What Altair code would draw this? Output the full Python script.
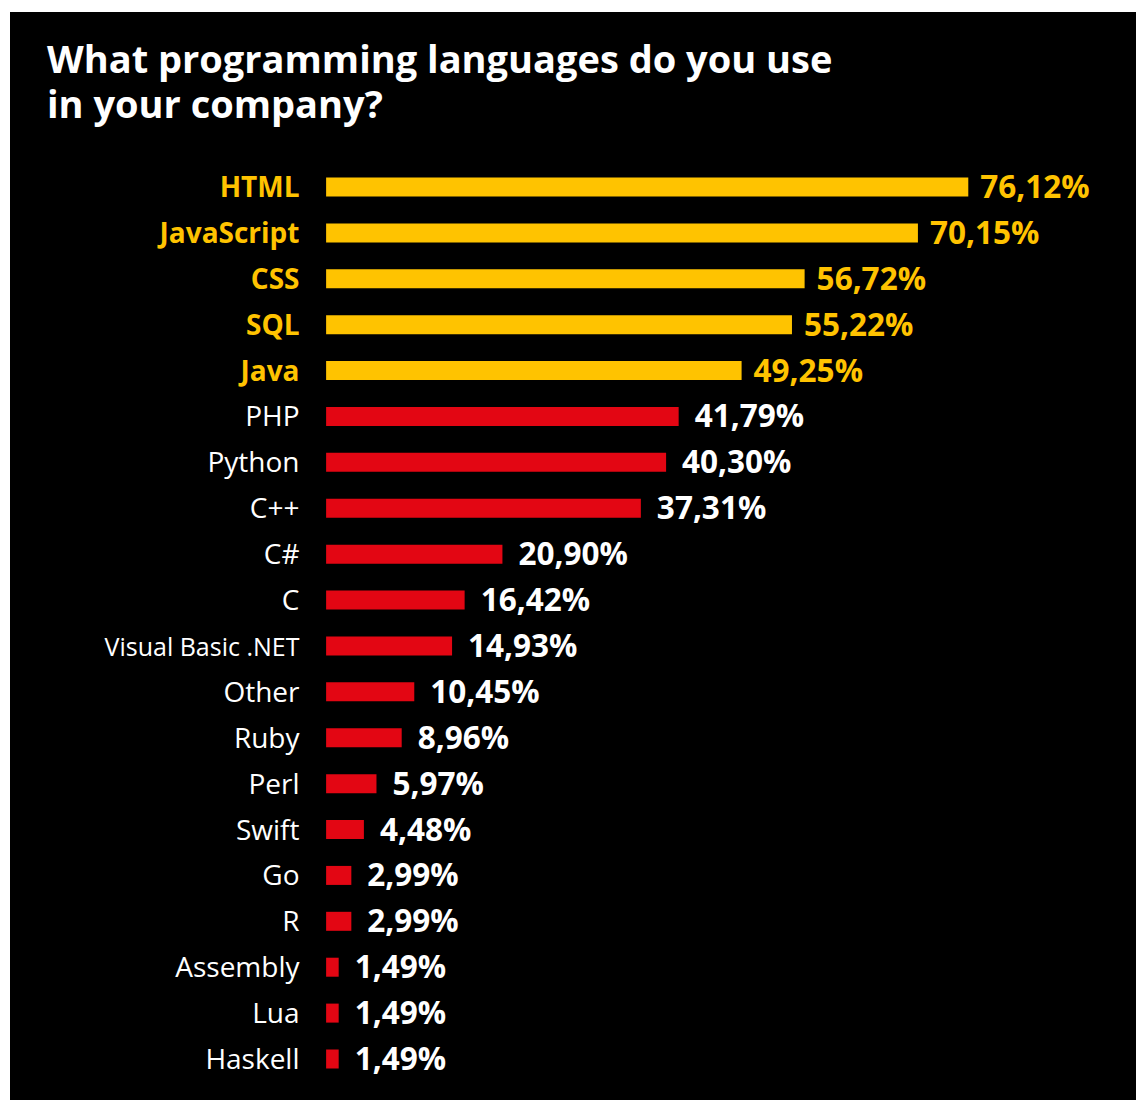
import altair as alt
import pandas as pd

languages = ["HTML", "JavaScript", "CSS", "SQL", "Java", "PHP", "Python", "C++", "C#", "C",
             "Visual Basic .NET", "Other", "Ruby", "Perl", "Swift", "Go", "R", "Assembly", "Lua", "Haskell"]
shares = [76.12, 70.15, 56.72, 55.22, 49.25, 41.79, 40.30, 37.31, 20.90, 16.42,
          14.93, 10.45, 8.96, 5.97, 4.48, 2.99, 2.99, 1.49, 1.49, 1.49]
top_languages = ["HTML", "JavaScript", "CSS", "SQL", "Java"]

YELLOW = "#FFC300"
RED = "#E30613"

df = pd.DataFrame({"language": languages, "share": shares})
df["label"] = df["share"].map(lambda v: f"{v:.2f}".replace(".", ",") + "%")
df["top"] = df["language"].isin(top_languages)

top_expr = "indexof(['HTML','JavaScript','CSS','SQL','Java'], datum.value) >= 0"

y_scale = alt.Scale(paddingInner=0.586, paddingOuter=0, range=[165.5, 1056.5])

y_enc = alt.Y(
    "language:N",
    sort=languages,
    scale=y_scale,
    axis=alt.Axis(
        title=None, orient="left", offset=-316, domain=False, ticks=False, tickSize=0,
        labelPadding=27, labelFont="Open Sans", labelLimit=400, labelOffset=2,
        labelFontSize=alt.ExprRef("datum.value == 'Visual Basic .NET' ? 25 : 28"),
        labelColor=alt.ExprRef(f"{top_expr} ? '{YELLOW}' : 'white'"),
        labelFontWeight=alt.ExprRef(f"{top_expr} ? 'bold' : 'normal'"),
        labelAlign="right", labelBaseline="middle", grid=False,
    ),
)

x_scale = alt.Scale(domain=[-37.47, 96.0], nice=False, zero=False)

bars = alt.Chart(df).mark_bar().encode(
    x=alt.X("share:Q", scale=x_scale, axis=None),
    y=y_enc,
    color=alt.condition("datum.top", alt.value(YELLOW), alt.value(RED)),
)

def value_labels(subset, color, dx):
    return alt.Chart(subset).mark_text(
        align="left", baseline="middle", dx=dx, dy=2, font="Open Sans",
        fontSize=31.5, fontWeight="bold", color=color,
    ).encode(
        x=alt.X("share:Q", scale=x_scale, axis=None),
        y=alt.Y("language:N", sort=languages),
        text="label:N",
    )

top_labels = value_labels(df[df["top"]], YELLOW, 12)
other_labels = value_labels(df[~df["top"]], "white", 16)

chart = alt.layer(bars, top_labels, other_labels).properties(
    width=1126,
    height=1088,
    background="white",
    padding={"left": 10, "top": 12, "right": 0, "bottom": 0},
    autosize=alt.AutoSizeParams(type="none"),
    title=alt.TitleParams(
        text=["What programming languages do you use", "in your company?"],
        font="Open Sans", fontSize=38, fontWeight="bold", color="white",
        anchor="start", frame="group", orient="top", baseline="alphabetic",
        offset=0, dx=37, dy=144, lineHeight=45,
    ),
).configure_view(fill="black", stroke=None)

chart.save("out.html", embed_options={"renderer": "svg", "actions": False})
